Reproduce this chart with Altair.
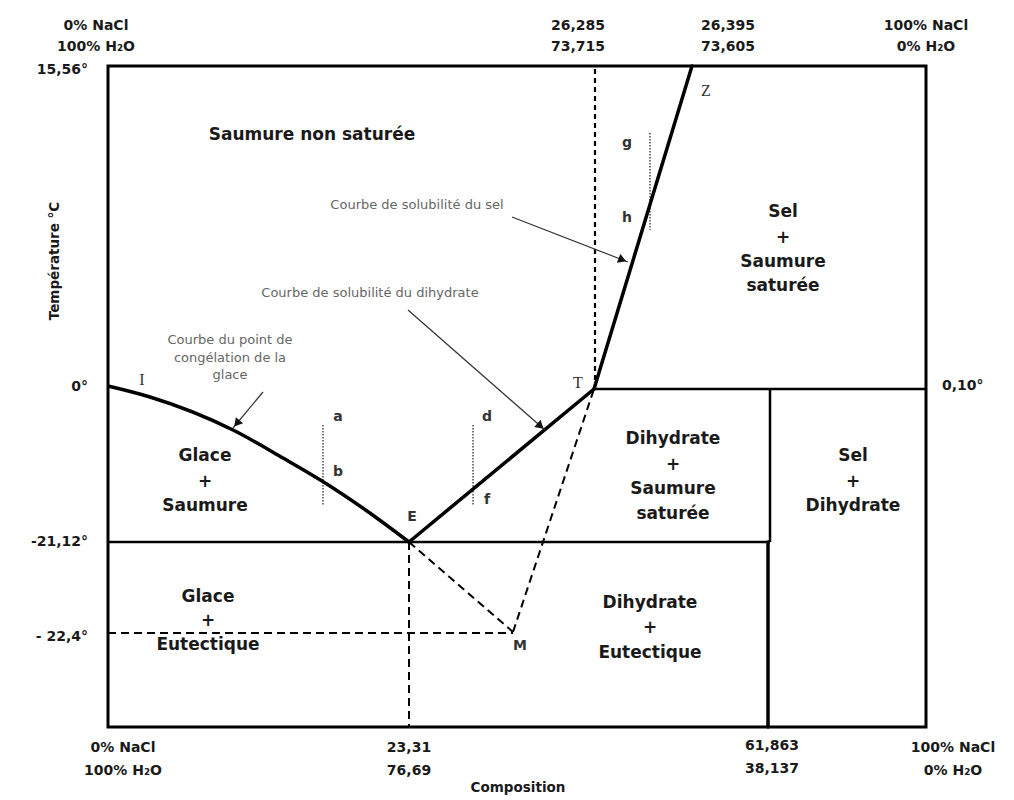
import math
import altair as alt
import pandas as pd

# Schematic diagram coordinates (the diagram is not drawn to scale)
W, H = 818, 661

# Freezing-point curve of ice (I -> E)
freeze_x = [0, 42, 125, 175, 214, 259, 301]
freeze_y = [341, 330, 297, 269, 246, 216, 185]

# Key points
E_pt = [301, 185]
T_pt = [486, 338]
Z_pt = [584, 661]
M_pt = [405, 95]

# Solid thick lines: x, y, x2, y2
thick_x = [E_pt[0], T_pt[0], 660]
thick_y = [E_pt[1], T_pt[1], 185]
thick_x2 = [T_pt[0], Z_pt[0], 660]
thick_y2 = [T_pt[1], Z_pt[1], 0]

# Solid thinner lines
thin_x = [0, T_pt[0], 662]
thin_y = [185, 338, 338]
thin_x2 = [662, W, 662]
thin_y2 = [185, 338, 185]

# Dashed lines
dash_x = [E_pt[0], 0, E_pt[0], M_pt[0]]
dash_y = [E_pt[1], 94, E_pt[1], M_pt[1]]
dash_x2 = [E_pt[0], M_pt[0], M_pt[0], T_pt[0]]
dash_y2 = [0, 94, M_pt[1], T_pt[1]]

# Short-dashed vertical at 26,285
vdash_x = [T_pt[0] + 1]
vdash_y = [T_pt[1]]
vdash_x2 = [T_pt[0] + 1]
vdash_y2 = [H]

# Dotted cooling paths a-b, d-f, g-h
dot_x = [215, 365, 542]
dot_y = [302, 302, 594]
dot_y2 = [222, 222, 497]

# Annotation arrows (start -> tip)
arrow_x = [404, 300, 155]
arrow_y = [510, 417, 335]
arrow_x2 = [520, 437, 125]
arrow_y2 = [465, 297, 299]

# Annotation texts
note_text = ["Courbe de solubilité du sel", "Courbe de solubilité du dihydrate",
             "Courbe du point de", "congélation de la", "glace"]
note_x = [309, 262, 122, 122, 122]
note_y = [522, 434, 387, 369, 352]

# Region labels
region_text = ["Saumure non saturée",
               "Sel", "+", "Saumure", "saturée",
               "Glace", "+", "Saumure",
               "Dihydrate", "+", "Saumure", "saturée",
               "Sel", "+", "Dihydrate",
               "Glace", "+", "Eutectique",
               "Dihydrate", "+", "Eutectique"]
region_x = [204,
            675, 675, 675, 675,
            97, 97, 97,
            565, 565, 565, 565,
            745, 745, 745,
            100, 100, 100,
            542, 542, 542]
region_y = [592,
            515, 489, 465, 441,
            271, 245, 221,
            288, 262, 238, 213,
            271, 245, 221,
            130, 106, 82,
            124, 99, 74]

# Point letters
pt_text = ["E", "M", "a", "b", "d", "f", "g", "h"]
pt_x = [304, 412, 230, 230, 379, 379, 519, 519]
pt_y = [210, 81, 310, 255, 310, 227, 584, 509]
pt2_text = ["I", "Z", "T"]
pt2_x = [34, 598, 470]
pt2_y = [347, 636, 344]

# Temperature tick labels
ltick_text = ["15,56°", "0°", "-21,12°", "- 22,4°"]
ltick_y = [657, 340, 185, 90]
rtick_text = ["0,10°"]
rtick_y = [341]

# Composition labels (top and bottom)
top_text = ["0% NaCl", "100% H₂O", "26,285", "73,715", "26,395", "73,605", "100% NaCl", "0% H₂O"]
top_x = [-12, -12, 470, 470, 620, 620, 818, 818]
top_y = [701, 680, 701, 680, 701, 680, 701, 680]
bot_text = ["0% NaCl", "100% H₂O", "23,31", "76,69", "61,863", "38,137", "100% NaCl", "0% H₂O"]
bot_x = [15, 15, 301, 301, 664, 664, 845, 845]
bot_y = [-21, -44, -21, -44, -19, -42, -21, -44]

xs = alt.Scale(domain=[0, W], nice=False, zero=False)
ys = alt.Scale(domain=[0, H], nice=False, zero=False)

def X(f="x"):
    return alt.X(f"{f}:Q", scale=xs, axis=None)

def Y(f="y"):
    return alt.Y(f"{f}:Q", scale=ys, axis=None)

def seg_df(x, y, x2, y2):
    return pd.DataFrame({"x": x, "y": y, "x2": x2, "y2": y2})

def rule_layer(df, **kw):
    return alt.Chart(df).mark_rule(**kw).encode(
        x=X("x"), y=Y("y"), x2="x2:Q", y2="y2:Q")

def text_layer(t, x, y, **kw):
    df = pd.DataFrame({"t": t, "x": x, "y": y})
    return alt.Chart(df).mark_text(**kw).encode(x=X("x"), y=Y("y"), text="t:N")

layers = []

layers.append(rule_layer(seg_df(thin_x, thin_y, thin_x2, thin_y2), color="black", strokeWidth=2.5))
layers.append(rule_layer(seg_df(dash_x, dash_y, dash_x2, dash_y2), color="black", strokeWidth=2,
                         strokeDash=[8, 5]))
layers.append(rule_layer(seg_df(vdash_x, vdash_y, vdash_x2, vdash_y2), color="black", strokeWidth=2.2,
                         strokeDash=[5, 4]))
layers.append(rule_layer(seg_df(dot_x, dot_y, dot_x, dot_y2), color="#777777", strokeWidth=2,
                         strokeDash=[1.5, 1.5]))
layers.append(rule_layer(seg_df(thick_x, thick_y, thick_x2, thick_y2), color="black", strokeWidth=3.5,
                         strokeCap="round"))

freeze_df = pd.DataFrame({"x": freeze_x, "y": freeze_y})
layers.append(alt.Chart(freeze_df).mark_line(color="black", strokeWidth=3.5, interpolate="monotone").encode(
    x=X("x"), y=Y("y"), order="x:Q"))

# arrows
layers.append(rule_layer(seg_df(arrow_x, arrow_y, arrow_x2, arrow_y2), color="#333333", strokeWidth=1.2))
heads = []
for x1, y1, x2, y2 in zip(arrow_x, arrow_y, arrow_x2, arrow_y2):
    dx, dy = x2 - x1, y2 - y1
    L = math.hypot(dx, dy)
    ang = math.degrees(math.atan2(dx, dy)) % 360
    heads.append({"x": x2 - 6 * dx / L, "y": y2 - 6 * dy / L, "ang": ang})
layers.append(alt.Chart(pd.DataFrame(heads)).mark_point(
    shape="triangle-up", filled=True, size=90, color="#111111", opacity=1).encode(
    x=X("x"), y=Y("y"), angle=alt.Angle("ang:Q", scale=None)))

# texts
layers.append(text_layer(note_text, note_x, note_y, font="DejaVu Sans", fontSize=13,
                         color="#666666", align="center", baseline="middle"))
layers.append(text_layer(region_text, region_x, region_y, font="DejaVu Sans", fontSize=17,
                         fontWeight="bold", color="#1a1a1a", align="center", baseline="middle"))
layers.append(text_layer(pt_text, pt_x, pt_y, font="DejaVu Sans", fontSize=14,
                         fontWeight="bold", color="#333333", align="center", baseline="middle"))
layers.append(text_layer(pt2_text, pt2_x, pt2_y, font="Liberation Serif", fontSize=16,
                         color="#333333", align="center", baseline="middle"))
layers.append(text_layer(ltick_text, [-20] * len(ltick_text), ltick_y, font="DejaVu Sans", fontSize=14,
                         fontWeight="bold", color="#1a1a1a", align="right", baseline="middle"))
layers.append(text_layer(rtick_text, [834], rtick_y, font="DejaVu Sans", fontSize=14,
                         fontWeight="bold", color="#1a1a1a", align="left", baseline="middle"))
layers.append(text_layer(top_text, top_x, top_y, font="DejaVu Sans", fontSize=14,
                         fontWeight="bold", color="#1a1a1a", align="center", baseline="middle"))
layers.append(text_layer(bot_text, bot_x, bot_y, font="DejaVu Sans", fontSize=14,
                         fontWeight="bold", color="#1a1a1a", align="center", baseline="middle"))
layers.append(text_layer(["Composition"], [410], [-61], font="DejaVu Sans", fontSize=13.5,
                         fontWeight="bold", color="#1a1a1a", align="center", baseline="middle"))
layers.append(text_layer(["Température °C"], [-53], [466], font="DejaVu Sans", fontSize=13.5,
                         fontWeight="bold", color="#1a1a1a", align="center", baseline="middle", angle=270))

chart = alt.layer(*layers).properties(
    width=W, height=H,
    autosize=alt.AutoSizeParams(type="none"),
    padding={"left": 100, "top": 58, "right": 80, "bottom": 72},
    background="white",
).configure_view(stroke="black", strokeWidth=3)

chart.save("out.html", embed_options={"renderer": "svg", "actions": False})
